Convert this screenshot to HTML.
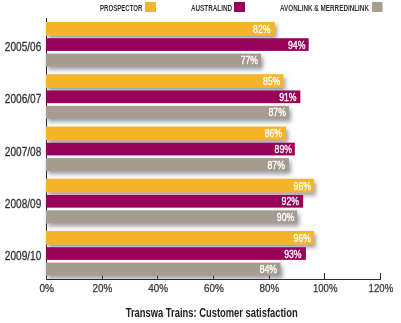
<!DOCTYPE html>
<html><head><meta charset="utf-8"><style>
html,body{margin:0;padding:0;background:#fff;}
svg{display:block;will-change:transform;}
text{font-family:"Liberation Sans", sans-serif;}
</style></head><body>
<svg width="401" height="323" viewBox="0 0 401 323">
<defs>
<filter id="sh" x="-10%" y="-50%" width="130%" height="250%">
<feGaussianBlur in="SourceAlpha" stdDeviation="2.0"/>
<feOffset dx="2.2" dy="2.6" result="b"/>
<feFlood flood-color="#5a606e" flood-opacity="0.62"/>
<feComposite in2="b" operator="in"/>
<feMerge><feMergeNode/><feMergeNode in="SourceGraphic"/></feMerge>
</filter>
<clipPath id="pa"><rect x="0" y="0" width="401" height="279"/></clipPath>
</defs>
<rect width="401" height="323" fill="#fff"/>
<text x="100" y="10.8" font-size="9" font-weight="bold" fill="#333333" textLength="42.5" lengthAdjust="spacingAndGlyphs" text-anchor="start">PROSPECTOR</text>
<rect x="145" y="2" width="11" height="10" fill="#F6B42A"/>
<text x="191" y="10.8" font-size="9" font-weight="bold" fill="#333333" textLength="41" lengthAdjust="spacingAndGlyphs" text-anchor="start">AUSTRALIND</text>
<rect x="234" y="2" width="11" height="10" fill="#99005A"/>
<text x="280" y="10.8" font-size="9" font-weight="bold" fill="#333333" textLength="89" lengthAdjust="spacingAndGlyphs" text-anchor="start">AVONLINK &amp; MERREDINLINK</text>
<rect x="372" y="2" width="10.5" height="10" fill="#A69D90"/>
<line x1="46.5" y1="18" x2="46.5" y2="280" stroke="#2a2a2a" stroke-width="1"/>
<line x1="46.5" y1="273" x2="46.5" y2="279.5" stroke="#2a2a2a" stroke-width="1"/>
<line x1="102.5" y1="273" x2="102.5" y2="279.5" stroke="#2a2a2a" stroke-width="1"/>
<line x1="157.5" y1="273" x2="157.5" y2="279.5" stroke="#2a2a2a" stroke-width="1"/>
<line x1="213.5" y1="273" x2="213.5" y2="279.5" stroke="#2a2a2a" stroke-width="1"/>
<line x1="269.5" y1="273" x2="269.5" y2="279.5" stroke="#2a2a2a" stroke-width="1"/>
<line x1="324.5" y1="273" x2="324.5" y2="279.5" stroke="#2a2a2a" stroke-width="1"/>
<line x1="380.5" y1="273" x2="380.5" y2="279.5" stroke="#2a2a2a" stroke-width="1"/>
<g clip-path="url(#pa)">
<rect x="45.9" y="22.00" width="228.97" height="13.7" fill="#F6B42A" filter="url(#sh)"/>
<rect x="45.9" y="38.20" width="262.79" height="12.7" fill="#99005A"/>
<rect x="45.9" y="53.60" width="215.15" height="13.0" fill="#A69D90" filter="url(#sh)"/>
<rect x="45.9" y="74.25" width="237.33" height="13.7" fill="#F6B42A" filter="url(#sh)"/>
<rect x="45.9" y="90.45" width="254.44" height="12.7" fill="#99005A"/>
<rect x="45.9" y="105.85" width="243.00" height="13.0" fill="#A69D90" filter="url(#sh)"/>
<rect x="45.9" y="126.50" width="240.11" height="13.7" fill="#F6B42A" filter="url(#sh)"/>
<rect x="45.9" y="142.70" width="248.87" height="12.7" fill="#99005A"/>
<rect x="45.9" y="158.10" width="243.00" height="13.0" fill="#A69D90" filter="url(#sh)"/>
<rect x="45.9" y="178.75" width="267.96" height="13.7" fill="#F6B42A" filter="url(#sh)"/>
<rect x="45.9" y="194.95" width="257.22" height="12.7" fill="#99005A"/>
<rect x="45.9" y="210.35" width="251.35" height="13.0" fill="#A69D90" filter="url(#sh)"/>
<rect x="45.9" y="231.00" width="267.96" height="13.7" fill="#F6B42A" filter="url(#sh)"/>
<rect x="45.9" y="247.20" width="260.00" height="12.7" fill="#99005A"/>
<rect x="45.9" y="262.60" width="234.64" height="13.0" fill="#A69D90" filter="url(#sh)"/>
</g>
<line x1="46" y1="279.5" x2="381" y2="279.5" stroke="#2a2a2a" stroke-width="1.1"/>
<text x="270.47" y="32.85" font-size="11.3" font-weight="normal" fill="#ffffff" stroke="#fff" stroke-width="0.35" textLength="17.4" lengthAdjust="spacingAndGlyphs" text-anchor="end">82%</text>
<text x="305.39" y="48.55" font-size="11.3" font-weight="normal" fill="#ffffff" stroke="#fff" stroke-width="0.35" textLength="17.4" lengthAdjust="spacingAndGlyphs" text-anchor="end">94%</text>
<text x="258.05" y="64.10" font-size="11.3" font-weight="normal" fill="#ffffff" stroke="#fff" stroke-width="0.35" textLength="17.4" lengthAdjust="spacingAndGlyphs" text-anchor="end">77%</text>
<text x="4.8" y="51.10" font-size="12" font-weight="normal" fill="#333333" stroke="#333333" stroke-width="0.3" textLength="36.5" lengthAdjust="spacingAndGlyphs" text-anchor="start">2005/06</text>
<text x="280.32" y="85.10" font-size="11.3" font-weight="normal" fill="#ffffff" stroke="#fff" stroke-width="0.35" textLength="17.4" lengthAdjust="spacingAndGlyphs" text-anchor="end">85%</text>
<text x="296.53" y="100.80" font-size="11.3" font-weight="normal" fill="#ffffff" stroke="#fff" stroke-width="0.35" textLength="17.4" lengthAdjust="spacingAndGlyphs" text-anchor="end">91%</text>
<text x="285.89" y="116.35" font-size="11.3" font-weight="normal" fill="#ffffff" stroke="#fff" stroke-width="0.35" textLength="17.4" lengthAdjust="spacingAndGlyphs" text-anchor="end">87%</text>
<text x="4.8" y="103.35" font-size="12" font-weight="normal" fill="#333333" stroke="#333333" stroke-width="0.3" textLength="36.5" lengthAdjust="spacingAndGlyphs" text-anchor="start">2006/07</text>
<text x="282.11" y="137.35" font-size="11.3" font-weight="normal" fill="#ffffff" stroke="#fff" stroke-width="0.35" textLength="17.4" lengthAdjust="spacingAndGlyphs" text-anchor="end">86%</text>
<text x="291.96" y="153.05" font-size="11.3" font-weight="normal" fill="#ffffff" stroke="#fff" stroke-width="0.35" textLength="17.4" lengthAdjust="spacingAndGlyphs" text-anchor="end">89%</text>
<text x="284.89" y="168.60" font-size="11.3" font-weight="normal" fill="#ffffff" stroke="#fff" stroke-width="0.35" textLength="17.4" lengthAdjust="spacingAndGlyphs" text-anchor="end">87%</text>
<text x="4.8" y="155.60" font-size="12" font-weight="normal" fill="#333333" stroke="#333333" stroke-width="0.3" textLength="36.5" lengthAdjust="spacingAndGlyphs" text-anchor="start">2007/08</text>
<text x="310.96" y="189.60" font-size="11.3" font-weight="normal" fill="#ffffff" stroke="#fff" stroke-width="0.35" textLength="17.4" lengthAdjust="spacingAndGlyphs" text-anchor="end">96%</text>
<text x="299.02" y="205.30" font-size="11.3" font-weight="normal" fill="#ffffff" stroke="#fff" stroke-width="0.35" textLength="17.4" lengthAdjust="spacingAndGlyphs" text-anchor="end">92%</text>
<text x="294.25" y="220.85" font-size="11.3" font-weight="normal" fill="#ffffff" stroke="#fff" stroke-width="0.35" textLength="17.4" lengthAdjust="spacingAndGlyphs" text-anchor="end">90%</text>
<text x="4.8" y="207.85" font-size="12" font-weight="normal" fill="#333333" stroke="#333333" stroke-width="0.3" textLength="36.5" lengthAdjust="spacingAndGlyphs" text-anchor="start">2008/09</text>
<text x="310.96" y="241.85" font-size="11.3" font-weight="normal" fill="#ffffff" stroke="#fff" stroke-width="0.35" textLength="17.4" lengthAdjust="spacingAndGlyphs" text-anchor="end">96%</text>
<text x="301.60" y="257.55" font-size="11.3" font-weight="normal" fill="#ffffff" stroke="#fff" stroke-width="0.35" textLength="17.4" lengthAdjust="spacingAndGlyphs" text-anchor="end">93%</text>
<text x="277.04" y="273.10" font-size="11.3" font-weight="normal" fill="#ffffff" stroke="#fff" stroke-width="0.35" textLength="17.4" lengthAdjust="spacingAndGlyphs" text-anchor="end">84%</text>
<text x="4.8" y="260.10" font-size="12" font-weight="normal" fill="#333333" stroke="#333333" stroke-width="0.3" textLength="36.5" lengthAdjust="spacingAndGlyphs" text-anchor="start">2009/10</text>
<text x="46.70" y="292.3" font-size="11.6" font-weight="normal" fill="#333333" stroke="#333333" stroke-width="0.25" textLength="14.6" lengthAdjust="spacingAndGlyphs" text-anchor="middle">0%</text>
<text x="102.40" y="292.3" font-size="11.6" font-weight="normal" fill="#333333" stroke="#333333" stroke-width="0.25" textLength="19.8" lengthAdjust="spacingAndGlyphs" text-anchor="middle">20%</text>
<text x="158.10" y="292.3" font-size="11.6" font-weight="normal" fill="#333333" stroke="#333333" stroke-width="0.25" textLength="19.8" lengthAdjust="spacingAndGlyphs" text-anchor="middle">40%</text>
<text x="213.80" y="292.3" font-size="11.6" font-weight="normal" fill="#333333" stroke="#333333" stroke-width="0.25" textLength="19.8" lengthAdjust="spacingAndGlyphs" text-anchor="middle">60%</text>
<text x="269.50" y="292.3" font-size="11.6" font-weight="normal" fill="#333333" stroke="#333333" stroke-width="0.25" textLength="19.8" lengthAdjust="spacingAndGlyphs" text-anchor="middle">80%</text>
<text x="325.20" y="292.3" font-size="11.6" font-weight="normal" fill="#333333" stroke="#333333" stroke-width="0.25" textLength="24.6" lengthAdjust="spacingAndGlyphs" text-anchor="middle">100%</text>
<text x="380.90" y="292.3" font-size="11.6" font-weight="normal" fill="#333333" stroke="#333333" stroke-width="0.25" textLength="24.6" lengthAdjust="spacingAndGlyphs" text-anchor="middle">120%</text>
<text x="125.7" y="316.9" font-size="12.5" font-weight="bold" fill="#222" textLength="172" lengthAdjust="spacingAndGlyphs" text-anchor="start">Transwa Trains: Customer satisfaction</text>
</svg>
</body></html>
